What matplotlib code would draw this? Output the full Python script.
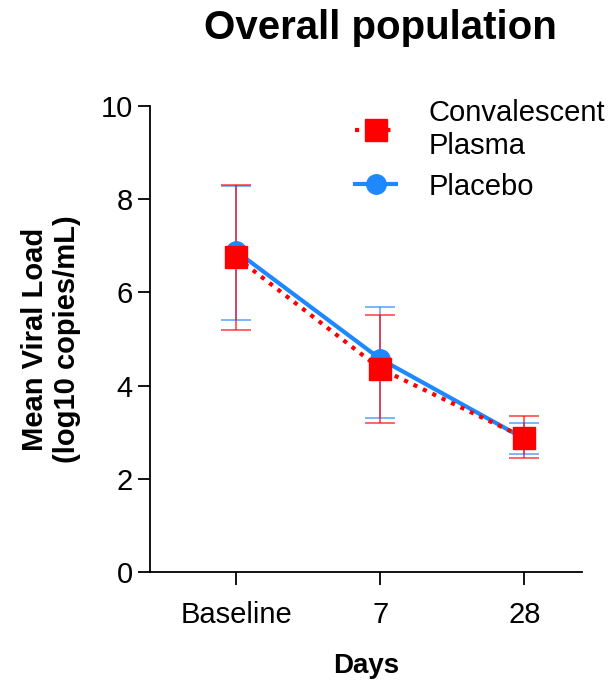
import matplotlib
matplotlib.use("Agg")
import matplotlib.pyplot as plt

plt.rcParams['font.family'] = ['Liberation Sans', 'DejaVu Sans']

days = ["Baseline", "7", "28"]
cp_mean = [6.75, 4.36, 2.88]
cp_upper = [8.30, 5.51, 3.35]
cp_lower = [5.19, 3.20, 2.45]
pl_mean = [6.88, 4.57, 2.86]
pl_upper = [8.28, 5.69, 3.20]
pl_lower = [5.41, 3.30, 2.53]

red = "#FF0000"
blue = "#1E88FF"

fig = plt.figure(figsize=(6.08, 6.83), dpi=100)
ax = fig.add_axes([150/608, 1-572/683, 432/608, 466/683])
x = list(range(len(days)))

pl_err = [[m - l for m, l in zip(pl_mean, pl_lower)], [u - m for m, u in zip(pl_mean, pl_upper)]]
cp_err = [[m - l for m, l in zip(cp_mean, cp_lower)], [u - m for m, u in zip(cp_mean, cp_upper)]]

ax.errorbar(x, pl_mean, yerr=pl_err, fmt='none', ecolor=blue, elinewidth=1.2, capsize=11, capthick=1.2, alpha=0.7, zorder=2)
ax.errorbar(x, cp_mean, yerr=cp_err, fmt='none', ecolor=red, elinewidth=1.2, capsize=11, capthick=1.2, alpha=0.7, zorder=2)
ax.plot(x, pl_mean, color=blue, lw=3, marker='o', ms=14, label="Placebo", zorder=3)
ax.plot(x, cp_mean, color=red, lw=3, ls=(0, (1, 1.5)), marker='s', ms=16, label="Convalescent\nPlasma", zorder=4)

ax.set_xlim(-0.6, 2.4)
ax.set_ylim(0, 10)
ax.set_yticks([0, 2, 4, 6, 8, 10])
ax.set_xticks(x)
ax.set_xticklabels(days)
for s in ['top', 'right']:
    ax.spines[s].set_visible(False)
for s in ['left', 'bottom']:
    ax.spines[s].set_linewidth(1.3)
ax.tick_params(axis='both', labelsize=21, length=9, width=1.3)
ax.tick_params(axis='x', pad=12)
ax.set_xlabel("Days", fontsize=20, fontweight='bold', labelpad=17)
ax.set_ylabel("Mean Viral Load\n(log10 copies/mL)", fontsize=21, fontweight='bold', labelpad=14)
fig.text(380/608, 1-28/683, "Overall population", ha='center', va='center', fontsize=29, fontweight='bold')

h, l = ax.get_legend_handles_labels()
leg = ax.legend(h[::-1], l[::-1], loc='upper left', bbox_to_anchor=(0.414, 1.071), frameon=False,
                fontsize=21, handlelength=1.4, handletextpad=1.13, labelspacing=0.45)
fig.savefig("out.png", dpi=100)
